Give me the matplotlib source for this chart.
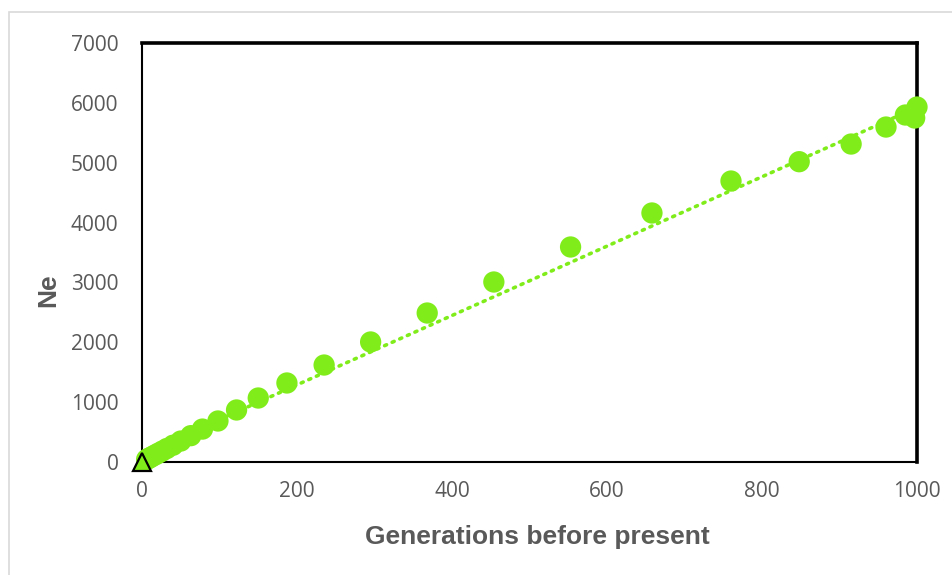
import numpy as np
import matplotlib.pyplot as plt
from matplotlib.patches import Rectangle

# generations before present and effective population size
gens = [6, 8, 10, 13, 17, 21, 26, 32, 40, 50, 63, 78, 98, 122, 150, 187, 235,
        295, 368, 454, 553, 658, 760, 848, 915, 960, 985, 997, 1000]
ne = [42, 56, 70, 91, 119, 147, 182, 225, 280, 350, 440, 550, 685, 869, 1069,
      1320, 1620, 2005, 2489, 3007, 3592, 4160, 4694, 5017, 5312, 5596, 5797,
      5747, 5930]

# present day point (triangle)
present_x = [0]
present_y = [0]

# linear trendline end points
trend_x = [0, 1000]
trend_y = [130, 5924]

green = '#80ED1B'
grey = '#595959'

fig = plt.figure(figsize=(9.52, 5.75), dpi=100)
fig.patches.append(Rectangle((9 / 952, -0.1), 1.2, 1.1 - 12 / 575,
                             transform=fig.transFigure, fill=False,
                             edgecolor='#D9D9D9', linewidth=1.2))

ax = fig.add_axes([142 / 952, 1 - 462 / 575, 775 / 952, 419 / 575])

ax.plot(trend_x, trend_y, color=green, linestyle=(0, (0.6, 1.7)),
        linewidth=2.6, dash_capstyle='round', zorder=2)
ax.scatter(gens, ne, s=235, color=green, edgecolors='none', zorder=3,
           clip_on=False)
ax.plot(present_x, present_y, marker='^', markersize=13, color=green,
        markeredgecolor='black', markeredgewidth=1.6, linestyle='none',
        zorder=5, clip_on=False)

ax.set_xlim(0, 1000)
ax.set_ylim(0, 7000)
ax.set_xticks([0, 200, 400, 600, 800, 1000])
ax.set_yticks([0, 1000, 2000, 3000, 4000, 5000, 6000, 7000])

for side in ['top', 'right']:
    ax.spines[side].set_linewidth(2.6)
    ax.spines[side].set_color('black')
for side in ['left', 'bottom']:
    ax.spines[side].set_linewidth(1.5)
    ax.spines[side].set_color('black')

ax.tick_params(axis='both', length=0, labelsize=15, labelcolor=grey)
ax.tick_params(axis='y', pad=17)
ax.tick_params(axis='x', pad=14)
for lab in ax.get_xticklabels() + ax.get_yticklabels():
    lab.set_family('Open Sans')

ax.set_xlabel('Generations before present', fontsize=19, fontweight='bold',
              color=grey, family='Liberation Sans', va='center')
ax.set_ylabel('Ne', fontsize=19, fontweight='bold', color=grey,
              family='Liberation Sans', va='center')
ax.xaxis.set_label_coords(0.51, -0.179)
ax.yaxis.set_label_coords(-0.121, 0.41)

fig.savefig('out.png', dpi=100)
